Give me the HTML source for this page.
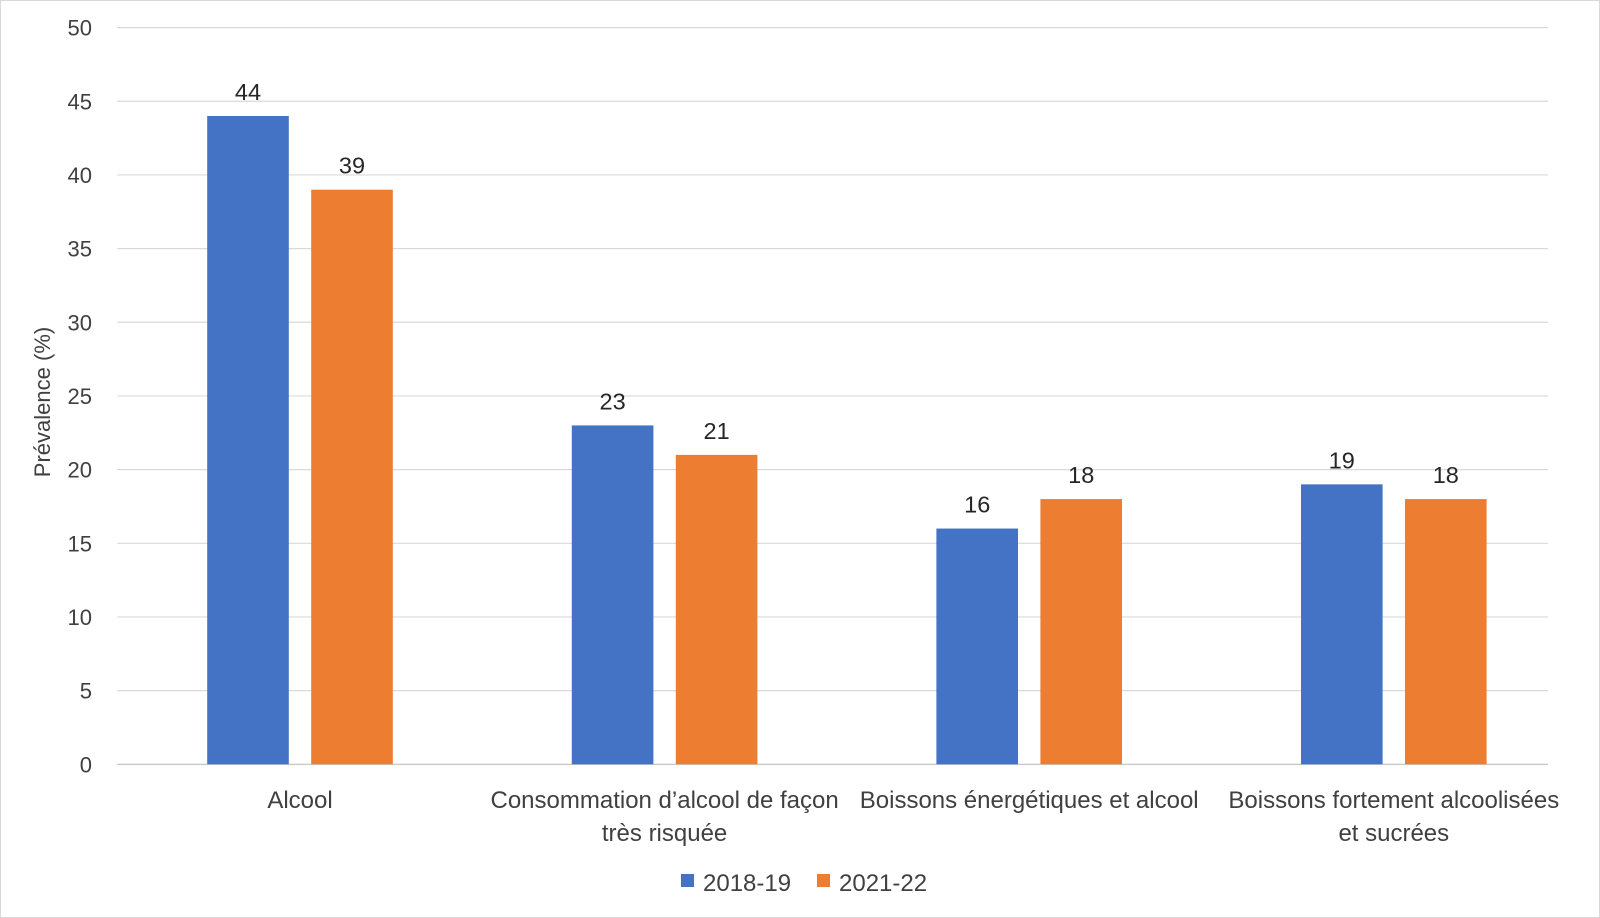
<!DOCTYPE html>
<html><head><meta charset="utf-8"><style>
html,body{margin:0;padding:0;background:#fff}
svg{display:block;font-family:"Liberation Sans",sans-serif}
</style></head><body>
<svg id="chart" width="1600" height="918" viewBox="0 0 1600 918">
<rect x="0.5" y="0.5" width="1599" height="917" fill="#fff" stroke="#d9d9d9"/>
<g id="grid"></g><g id="bars"></g><g id="labels"></g>
<text transform="translate(50,402) rotate(-90)" text-anchor="middle" font-size="22" fill="#404040">Prévalence (%)</text>
<g>
<rect x="681" y="874" width="13" height="13" fill="#4472c4"/>
<text x="703" y="891" font-size="24" fill="#404040">2018-19</text>
<rect x="817" y="874" width="13" height="13" fill="#ed7d31"/>
<text x="839" y="891" font-size="24" fill="#404040">2021-22</text>
</g>
</svg>
<script>
const categories=[["Alcool"],["Consommation d’alcool de façon","très risquée"],["Boissons énergétiques et alcool"],["Boissons fortement alcoolisées","et sucrées"]];
const series2018=[44,23,16,19];
const series2021=[39,21,18,18];
const yTicks=[0,5,10,15,20,25,30,35,40,45,50];
const NS="http://www.w3.org/2000/svg";
const left=117.3,right=1548,y0=764.3,y50=27.6;
const y=v=>y0-(v/50)*(y0-y50);
const xc=i=>300+364.6*i;
const bw=81.6,gap=22.4;
function mk(tag,attrs,parent,txt){const e=document.createElementNS(NS,tag);for(const k in attrs)e.setAttribute(k,attrs[k]);if(txt!==undefined)e.textContent=txt;parent.appendChild(e);return e;}
const grid=document.getElementById('grid'),bars=document.getElementById('bars'),labels=document.getElementById('labels');
yTicks.forEach(t=>{
 const l=mk('line',{x1:left,x2:right,y1:y(t),y2:y(t),stroke:t===0?'#bfbfbf':'#d9d9d9','stroke-width':1.2},grid);
 
 
 const tx=mk('text',{x:92,y:y(t)+8,'text-anchor':'end','font-size':22,fill:'#404040'},grid,String(t));
 
 
});
categories.forEach((c,i)=>{
 [[series2018,'#4472c4',-1,'2018-19'],[series2021,'#ed7d31',1,'2021-22']].forEach(([s,col,d,nm])=>{
  const x=d<0?xc(i)-gap/2-bw:xc(i)+gap/2;
  const r=mk('rect',{x:x,y:y(s[i]),width:bw,height:y0-y(s[i]),fill:col},bars);
  
  
  const t=mk('text',{x:x+bw/2,y:y(s[i])-16,'text-anchor':'middle','font-size':23.5,fill:'#262626'},labels,String(s[i]));
  
  
 });
 c.forEach((line,j)=>{
  const t=mk('text',{x:xc(i),y:808+j*33,'text-anchor':'middle','font-size':24,fill:'#404040'},labels,line);
  
  
 });
});
</script>
</body></html>
